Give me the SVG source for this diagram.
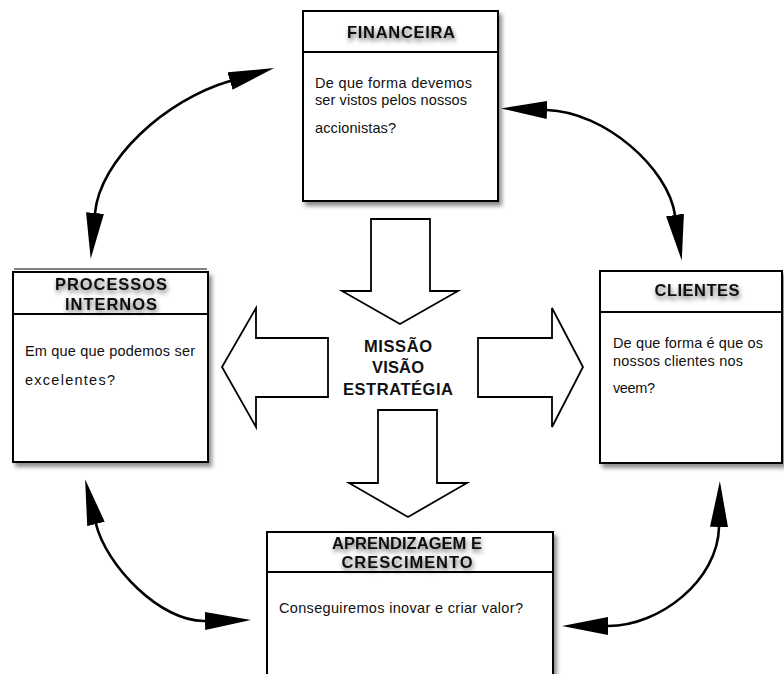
<svg xmlns="http://www.w3.org/2000/svg" width="784" height="674" viewBox="0 0 784 674">
  <defs>
    <filter id="boxShadow" x="-10%" y="-10%" width="130%" height="130%">
      <feDropShadow dx="3" dy="4" stdDeviation="2.2" flood-color="#000" flood-opacity="0.45"/>
    </filter>
    <filter id="titleGlow" x="-20%" y="-60%" width="140%" height="240%">
      <feGaussianBlur in="SourceAlpha" stdDeviation="2.6" result="b"/>
      <feOffset in="b" dx="1" dy="3" result="o"/>
      <feComponentTransfer in="o" result="s">
        <feFuncA type="linear" slope="0.6"/>
      </feComponentTransfer>
      <feMerge>
        <feMergeNode in="s"/>
        <feMergeNode in="SourceGraphic"/>
      </feMerge>
    </filter>
    <filter id="softLine" x="-5%" y="-200%" width="110%" height="500%">
      <feGaussianBlur stdDeviation="2.5"/>
    </filter>
    <marker id="head" viewBox="0 0 46 18" refX="0" refY="9" markerWidth="46" markerHeight="18"
            markerUnits="userSpaceOnUse" orient="auto-start-reverse">
      <path d="M0 0 L46 9 L0 18 Z" fill="#000"/>
    </marker>
    <style>
      .box { fill: #fff; stroke: #000; stroke-width: 2; }
      .rule { stroke: #000; stroke-width: 2; }
      .under { stroke: #000; stroke-opacity: 0.35; stroke-width: 3; }
      .title { font-family: "Liberation Sans", Arial, sans-serif; font-weight: bold; font-size: 16.5px; fill: #111; text-anchor: middle; }
      .body { font-family: "Liberation Sans", Arial, sans-serif; font-size: 14.5px; fill: #111; }
      .block { fill: #fff; stroke: #000; stroke-width: 1.8; stroke-linejoin: miter; }
      .arc { fill: none; stroke: #000; stroke-width: 2.6; stroke-linecap: round; }
      .centre { font-family: "Liberation Sans", Arial, sans-serif; font-weight: bold; font-size: 16.5px; fill: #111; text-anchor: middle; }
    </style>
  </defs>

  <rect width="784" height="674" fill="#fff"/>

  <!-- FINANCEIRA -->
  <g id="financeira">
    <rect class="box" x="303" y="11" width="195" height="190" filter="url(#boxShadow)"/>
    <line class="under" x1="306" y1="56" x2="495" y2="56" filter="url(#softLine)"/>
    <line class="rule" x1="303" y1="52" x2="498" y2="52"/>
    <text class="title" x="401" y="38" textLength="108" lengthAdjust="spacing" filter="url(#titleGlow)">FINANCEIRA</text>
    <text class="body" x="315" y="88" textLength="157" lengthAdjust="spacing">De que forma devemos</text>
    <text class="body" x="315" y="105" textLength="152" lengthAdjust="spacing">ser vistos pelos nossos</text>
    <text class="body" x="315" y="133" textLength="81" lengthAdjust="spacing">accionistas?</text>
  </g>

  <!-- PROCESSOS INTERNOS -->
  <g id="processos">
    <rect class="box" x="13" y="272" width="195" height="190" filter="url(#boxShadow)"/>
    <line x1="14" y1="269" x2="207" y2="269" stroke="#000" stroke-width="1"/>
    <line class="under" x1="16" y1="318" x2="205" y2="318" filter="url(#softLine)"/>
    <line class="rule" x1="13" y1="314" x2="208" y2="314"/>
    <text class="title" x="111" y="290" textLength="112" lengthAdjust="spacing" filter="url(#titleGlow)">PROCESSOS</text>
    <text class="title" x="111" y="310" textLength="92" lengthAdjust="spacing" filter="url(#titleGlow)">INTERNOS</text>
    <text class="body" x="25" y="356" textLength="170" lengthAdjust="spacing">Em que que podemos ser</text>
    <text class="body" x="25" y="385" textLength="90" lengthAdjust="spacing">excelentes?</text>
  </g>

  <!-- CLIENTES -->
  <g id="clientes">
    <rect class="box" x="600" y="271" width="182" height="192" filter="url(#boxShadow)"/>
    <line class="under" x1="603" y1="316" x2="782" y2="316" filter="url(#softLine)"/>
    <line class="rule" x1="600" y1="312" x2="782" y2="312"/>
    <text class="title" x="697" y="296" textLength="85" lengthAdjust="spacing" filter="url(#titleGlow)">CLIENTES</text>
    <text class="body" x="613" y="348" textLength="150" lengthAdjust="spacing">De que forma é que os</text>
    <text class="body" x="613" y="366" textLength="130" lengthAdjust="spacing">nossos clientes nos</text>
    <text class="body" x="613" y="393" textLength="42" lengthAdjust="spacing">veem?</text>
  </g>

  <!-- APRENDIZAGEM E CRESCIMENTO -->
  <g id="aprendizagem">
    <rect class="box" x="267" y="532" width="286" height="160" filter="url(#boxShadow)"/>
    <line class="under" x1="270" y1="576" x2="550" y2="576" filter="url(#softLine)"/>
    <line class="rule" x1="267" y1="572" x2="553" y2="572"/>
    <text class="title" x="407" y="549" textLength="150" lengthAdjust="spacing" filter="url(#titleGlow)">APRENDIZAGEM E</text>
    <text class="title" x="407" y="568" textLength="131" lengthAdjust="spacing" filter="url(#titleGlow)">CRESCIMENTO</text>
    <text class="body" x="279" y="613" textLength="244" lengthAdjust="spacing">Conseguiremos inovar e criar valor?</text>
  </g>

  <!-- Centre: mission, vision, strategy with block arrows -->
  <g id="centro">
    <polygon class="block" points="371,219 430,219 430,291 458,291 400,324 342,291 371,291"/>
    <polygon class="block" points="328,338 256,338 256,308 222,367 256,427 256,397 328,397"/>
    <polygon class="block" points="478,338 552,338 552,308 583,367 552,427 552,397 478,397"/>
    <polygon class="block" points="378,410 437,410 437,483 467,483 408,517 349,483 378,483"/>
    <text class="centre" x="398" y="352" textLength="68" lengthAdjust="spacing">MISSÃO</text>
    <text class="centre" x="398" y="373" textLength="52" lengthAdjust="spacing">VISÃO</text>
    <text class="centre" x="398" y="395" textLength="110" lengthAdjust="spacing">ESTRATÉGIA</text>
  </g>

  <!-- Curved two-way connectors between the perspectives -->
  <g id="connectors">
    <path class="arc" d="M95 213 C100 160 165 100 230 81" marker-start="url(#head)" marker-end="url(#head)"/>
    <path class="arc" d="M547 110 C605 112 668 168 675 215" marker-start="url(#head)" marker-end="url(#head)"/>
    <path class="arc" d="M96 524 C106 565 160 622 205 621" marker-start="url(#head)" marker-end="url(#head)"/>
    <path class="arc" d="M719 527 C718 580 660 626 608 626" marker-start="url(#head)" marker-end="url(#head)"/>
  </g>
</svg>
